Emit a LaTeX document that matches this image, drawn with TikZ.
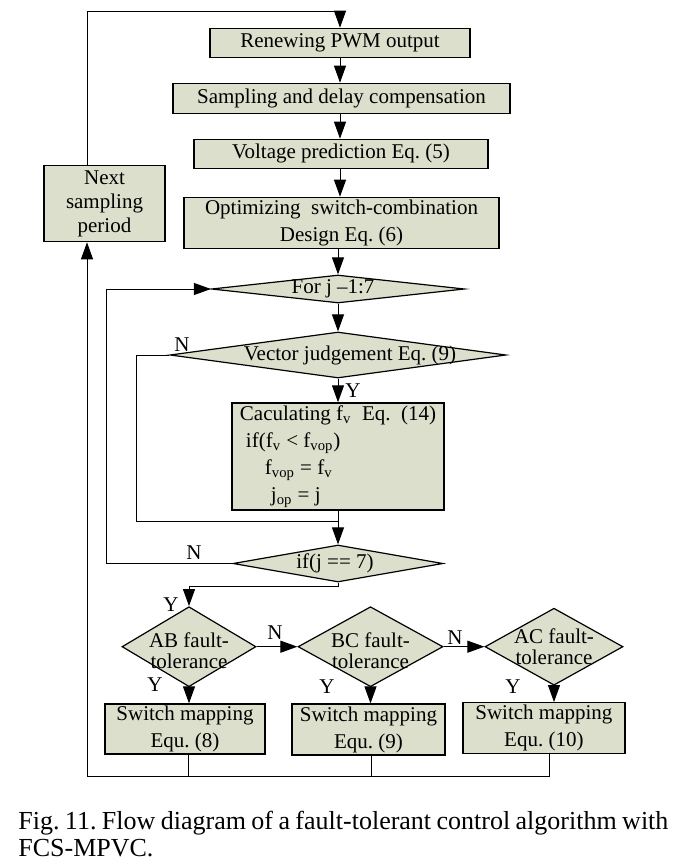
\documentclass[tikz,border=0pt]{standalone}
\usepackage{fontspec}
\setmainfont{Liberation Serif}
\usetikzlibrary{arrows.meta,shapes.geometric}
\definecolor{boxfill}{RGB}{220,223,203}
\frenchspacing
\begin{document}
\begin{tikzpicture}[x=0.5pt,y=-0.5pt,
  every node/.style={font=\fontsize{10.5}{13.5}\selectfont},
  box/.style={draw, fill=boxfill, inner sep=0pt, align=center, line width=0.6pt},
  dia/.style={draw, fill=boxfill, diamond, inner sep=0pt, line width=0.6pt},
  txt/.style={inner sep=0pt, align=center},
  conn/.style={line width=0.5pt},
  arr/.style={conn, -{Triangle[length=8.5pt,width=6pt]}},
  lbl/.style={inner sep=0pt}]
\useasboundingbox (0,0) rectangle (685,868);
\fill[white] (0,0) rectangle (685,868);

% main column
\node[box, minimum width=130pt, minimum height=14.5pt] (renew) at (340,42.8) {Renewing PWM output};
\node[box, minimum width=168.5pt, minimum height=15pt] (samp) at (341.5,98.3) {Sampling and delay compensation};
\node[box, minimum width=147pt, minimum height=14.5pt] (volt) at (341,153.8) {Voltage prediction Eq. (5)};
\node[box, minimum width=157.5pt, minimum height=25.5pt] (opt) at (341.5,222.8) {Optimizing~ switch-combination\\Design Eq. (6)};
\node[box, minimum width=60.5pt, minimum height=38pt, font=\fontsize{10.5}{12}\selectfont] (next) at (104.5,203.7) {Next\\sampling\\period};

\node[dia, minimum width=126.5pt, minimum height=14pt] (forj) at (338,289) {};
\node[txt] (forjt) at (333,289) {For j –1:7};
\node[dia, minimum width=168pt, minimum height=23pt] (vec) at (338,355) {};
\node[txt] (vect) at (350,355) {Vector judgement Eq. (9)};
\node[box, minimum width=106pt, minimum height=53.5pt, align=left] (calc) at (338,456.4)
  {Caculating f\textsubscript{v}~ Eq.~ (14)\\
   \hspace*{3pt}if(f\textsubscript{v} < f\textsubscript{vop})\\
   \hspace*{12.5pt}f\textsubscript{vop} = f\textsubscript{v}\\
   \hspace*{15.5pt}j\textsubscript{op} = j};
\node[dia, minimum width=105pt, minimum height=18.5pt] (ifj) at (338,563.5) {};
\node[txt] (ifjt) at (335,563.5) {if(j == 7)};

% fault tolerance row
\node[dia, minimum width=67pt, minimum height=40pt] (AB) at (189,646.7) {};
\node[txt, font=\fontsize{10.5}{10.5}\selectfont] (ABt) at (189,651) {AB fault-\\tolerance};
\node[dia, minimum width=72.5pt, minimum height=40pt] (BC) at (370.5,646.7) {};
\node[txt, font=\fontsize{10.5}{10.5}\selectfont] (BCt) at (370.5,651) {BC fault-\\tolerance};
\node[dia, minimum width=69pt, minimum height=38.5pt] (AC) at (554,646.7) {};
\node[txt, font=\fontsize{10.5}{10.5}\selectfont] (ACt) at (554,647) {AC fault-\\tolerance};

\node[box, minimum width=80pt, minimum height=25pt] (sm1) at (185,729) {Switch mapping\\Equ. (8)};
\node[box, minimum width=76.5pt, minimum height=25.5pt] (sm2) at (368.5,729.5) {Switch mapping\\Equ. (9)};
\node[box, minimum width=81pt, minimum height=25.3pt] (sm3) at (543.9,728) {Switch mapping\\Equ. (10)};

% coordinates
\coordinate (ttop) at (87,11.7);
\coordinate (bl) at (87,776);
\coordinate (b1) at (188,776);
\coordinate (b2) at (371,776);
\coordinate (b3) at (549,776);
\coordinate (vl) at (136.7,0);
\coordinate (jn) at (338,521.7);
\coordinate (ol) at (106.7,0);
\coordinate (kk) at (0,586.7);

% connectors
\draw[arr] (next.north -| ttop) -- (ttop) -| (renew.north);
\draw[arr] (renew.south) -- (renew.south |- samp.north);
\draw[arr] (renew.south |- samp.south) -- (renew.south |- volt.north);
\draw[arr] (renew.south |- volt.south) -- (renew.south |- opt.north);
\draw[arr] (forj.north |- opt.south) -- (forj.north);
\draw[arr] (forj.south) -- (vec.north);
\draw[arr] (vec.south) -- (calc.north);
\draw[arr] (calc.south) -- (ifj.north);
\draw[conn] (vec.west) -- (vec.west -| vl) -- (vl |- jn) -- (jn);
\draw[arr] (ifj.west) -- (ifj.west -| ol) -- (ol |- forj.west) -- (forj.west);
\draw[arr] (ifj.south) -- (ifj.south |- kk) -- (kk -| AB.north) -- (AB.north);
\draw[arr] (AB.east) -- (BC.west);
\draw[arr] (BC.east) -- (AC.west);
\draw[arr] (AB.south) -- (AB.south |- sm1.north);
\draw[arr] (BC.south) -- (BC.south |- sm2.north);
\draw[arr] (AC.south) -- (AC.south |- sm3.north);
\draw[conn] (sm1.south -| b1) -- (b1);
\draw[conn] (sm2.south -| b2) -- (b2);
\draw[conn] (sm3.south -| b3) -- (b3) -- (bl);
\draw[arr] (bl) -- (bl |- next.south);

% labels
\node[lbl] (n1) at (182,345) {N};
\node[lbl] (y1) at (353,391) {Y};
\node[lbl] (n2) at (194,553) {N};
\node[lbl] (y2) at (171,605) {Y};
\node[lbl] (n3) at (275,633) {N};
\node[lbl] (n4) at (455,638) {N};
\node[lbl] (y3) at (155,685) {Y};
\node[lbl] (y4) at (327,687) {Y};
\node[lbl] (y5) at (513,687) {Y};

% caption
\node[anchor=base west, inner sep=0pt, font=\fontsize{13}{15}\selectfont] (cap1) at (18,829)
  {\makebox[325pt][s]{Fig. 11. Flow diagram of a fault-tolerant control algorithm with}};
\node[anchor=base west, inner sep=0pt, font=\fontsize{13}{15}\selectfont] (cap2) at (18,856) {FCS-MPVC.};
\end{tikzpicture}
\end{document}
